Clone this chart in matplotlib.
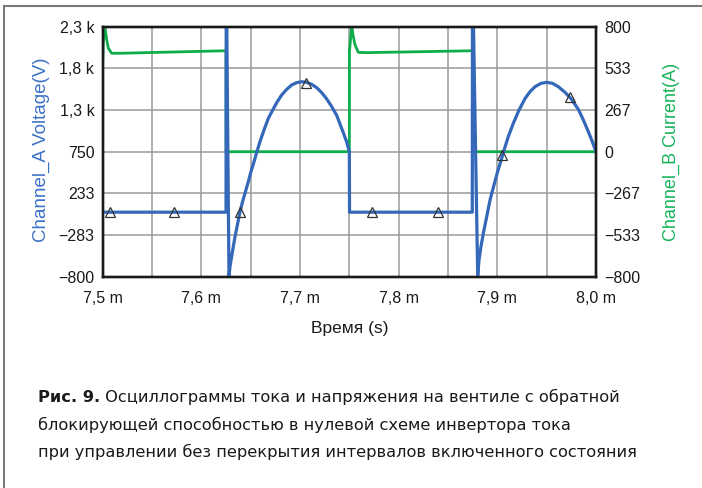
import matplotlib
matplotlib.use("Agg")
import matplotlib.pyplot as plt
from matplotlib import font_manager
from matplotlib.ft2font import FT2Font
from matplotlib.lines import Line2D
import numpy as np

# ---------- Data (time in ms) ----------
# Channel_A voltage (V), left axis
volt_t = [7.5000, 7.6250, 7.6252, 7.6255, 7.6280, 7.6290, 7.6307, 7.6324, 7.6341,
          7.6365, 7.6392, 7.6415, 7.6442, 7.6476, 7.6503, 7.6534, 7.6561, 7.6594,
          7.6635, 7.6679, 7.6723, 7.6770, 7.6814, 7.6865, 7.6915, 7.6966, 7.7017,
          7.7067, 7.7118, 7.7169, 7.7220, 7.7270, 7.7321, 7.7372, 7.7406, 7.7439,
          7.7473, 7.7500, 7.7502,
          7.8746, 7.8748, 7.8753, 7.8801, 7.8814, 7.8834, 7.8858, 7.8892, 7.8926,
          7.8966, 7.9003, 7.9034, 7.9061, 7.9111, 7.9162, 7.9220, 7.9282, 7.9331,
          7.9382, 7.9443, 7.9501, 7.9557, 7.9618, 7.9686, 7.9753, 7.9821, 7.9872,
          7.9922, 7.9963, 8.0000]
volt_v = [0, 0, 2700, 2700, -800, -675, -551, -427, -304,
          -159, 7, 118, 234, 379, 503, 627, 742, 874,
          1019, 1164, 1267, 1371, 1453, 1523, 1577, 1606, 1618,
          1610, 1585, 1544, 1482, 1405, 1310, 1200, 1090, 985,
          870, 750, 0,
          0, 2700, 2700, -800, -593, -427, -262, -56, 151,
          337, 503, 627, 742, 937, 1102, 1267, 1412, 1494,
          1556, 1598, 1610, 1598, 1556, 1486, 1399, 1275, 1143,
          999, 874, 750]

# Channel_B current (A), right axis
curr_t = [7.500, 7.5006, 7.5020, 7.5041, 7.5057, 7.5091, 7.5175, 7.6250, 7.6251,
          7.7500, 7.7501, 7.7524, 7.7537, 7.7557, 7.7591, 7.7680, 7.8750, 7.8751, 8.000]
curr_i = [576, 700, 810, 715, 662, 630, 630, 646, 0,
          0, 640, 810, 747, 685, 636, 634, 646, 0, 0]

# triangle markers on channel A
mark_t = [7.5077, 7.5723, 7.6392, 7.7061, 7.7732, 7.8395, 7.9044, 7.9736]
mark_v = [0, 0, 6, 1600, 6, 0, 710, 1425]

left_ticklabels = ["\u2212800", "\u2212283", "233", "750", "1,3 k", "1,8 k", "2,3 k"]
right_ticklabels = ["\u2212800", "\u2212533", "\u2212267", "0", "267", "533", "800"]
x_ticklabels = ["7,5 m", "7,6 m", "7,7 m", "7,8 m", "7,9 m", "8,0 m"]

caption_bold = "Рис. 9."
caption_lines = [" Осциллограммы тока и напряжения на вентиле с обратной",
                 "блокирующей способностью в нулевой схеме инвертора тока",
                 "при управлении без перекрытия интервалов включенного состояния"]

blue = "#3468b8"
green = "#0fac4c"
tick_font = "Liberation Sans"


def has_cyrillic(path):
    try:
        cmap = FT2Font(path).get_charmap()
    except Exception:
        return False
    return all(ord(c) in cmap for c in "ОсциллограммыЖяю")


# narrow font with Cyrillic for the caption if one is installed
cap_font = "Roboto"
for f in font_manager.fontManager.ttflist:
    if (("Narrow" in f.name or "Condensed" in f.name or f.stretch in ("condensed", "semi-condensed"))
            and "Mono" not in f.name and "Serif" not in f.name
            and f.style == "normal" and has_cyrillic(f.fname)):
        cap_font = f.name
        break

# ---------- Figure ----------
fig = plt.figure(figsize=(7.02, 4.88), dpi=100)
ax = fig.add_axes([102.7 / 702, 1 - 276.7 / 488, 493.3 / 702, 250 / 488])
ax2 = ax.twinx()

ax.set_xlim(7.5, 8.0)
ax.set_ylim(-800, 2300)
ax2.set_ylim(-800, 800)

ax.set_xticks(np.arange(7.5, 8.001, 0.05))
ax.set_xticklabels([x_ticklabels[i // 2] if i % 2 == 0 else "" for i in range(11)])
ax.set_yticks(np.linspace(-800, 2300, 7))
ax.set_yticklabels(left_ticklabels)
ax2.set_yticks(np.linspace(-800, 800, 7))
ax2.set_yticklabels(right_ticklabels)

ax.grid(True, color="#9a9a9a", linewidth=1.1)
ax.set_axisbelow(True)
for a in (ax, ax2):
    a.tick_params(length=0, labelsize=11.5, colors="#1a1a1a")
    for lab in a.get_xticklabels() + a.get_yticklabels():
        lab.set_fontfamily(tick_font)
    for s in a.spines.values():
        s.set_linewidth(1.7)
        s.set_color("#1a1a1a")
ax.tick_params(axis="x", pad=10)
ax.tick_params(axis="y", pad=6)
ax2.tick_params(axis="y", pad=6)

# green drawn in ax with the right-axis scale so the grid stays beneath it
ax.plot(curr_t, curr_i, color=green, linewidth=2.0, zorder=2, transform=ax2.transData)
ax.plot(volt_t, volt_v, color=blue, linewidth=2.3, zorder=3)
ax.plot(mark_t, mark_v, linestyle="none", marker="^", markersize=7,
        markerfacecolor="none", markeredgecolor="#333333", markeredgewidth=0.9, zorder=4)
ax.set_xlim(7.5, 8.0)
ax.set_ylim(-800, 2300)

fig.text(41 / 702, 1 - 150 / 488, "Channel_A Voltage(V)", rotation=90, color="#3b72c4",
         fontsize=13.5, family=tick_font, ha="center", va="center")
fig.text(671 / 702, 1 - 152 / 488, "Channel_B Current(A)", rotation=90, color="#17b35a",
         fontsize=13, family=tick_font, ha="center", va="center")
fig.text(349.3 / 702, 1 - 328 / 488, "Время (s)", fontsize=12.5, family=tick_font,
         ha="center", va="center", color="#1a1a1a")

# caption, size fitted so the last line spans the same width as in the picture
fig.canvas.draw()
renderer = fig.canvas.get_renderer()
probe = fig.text(0, 0, caption_lines[2], fontsize=12, family=[cap_font, "Roboto"])
w = probe.get_window_extent(renderer).width
probe.remove()
cap_size = 12 * 596 / w

y0 = 1 - 397 / 488
t_bold = fig.text(38 / 702, y0, caption_bold, fontsize=cap_size, family=[cap_font, "Roboto"],
                  fontweight="bold", va="center", ha="left", color="#1a1a1a")
bb = t_bold.get_window_extent(renderer)
fig.text(bb.x1 / 702, y0, caption_lines[0], fontsize=cap_size, family=[cap_font, "Roboto"],
         va="center", ha="left", color="#1a1a1a")
fig.text(38 / 702, 1 - 424.5 / 488, caption_lines[1], fontsize=cap_size, family=[cap_font, "Roboto"],
         va="center", ha="left", color="#1a1a1a")
fig.text(38 / 702, 1 - 452 / 488, caption_lines[2], fontsize=cap_size, family=[cap_font, "Roboto"],
         va="center", ha="left", color="#1a1a1a")

# partial frame (top and left)
fig.add_artist(Line2D([3.5 / 702, 3.5 / 702], [0, 1 - 6 / 488], color="#7a7a7a", linewidth=1.5))
fig.add_artist(Line2D([3.5 / 702, 1], [1 - 6 / 488, 1 - 6 / 488], color="#7a7a7a", linewidth=1.5))

fig.savefig("out.png", dpi=100)
